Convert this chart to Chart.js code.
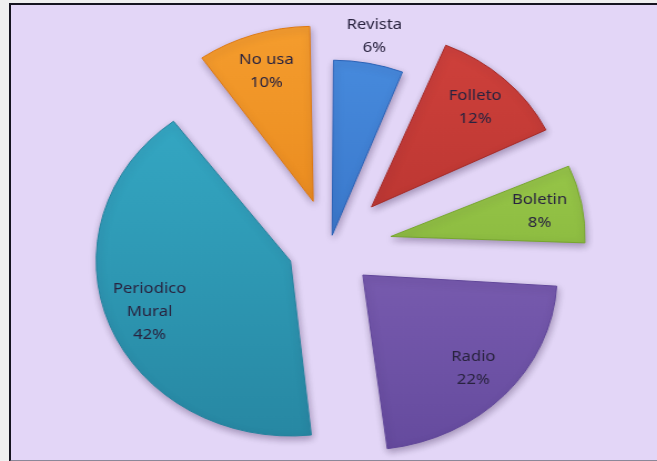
<!DOCTYPE html>
<html>
<head>
<meta charset="utf-8">
<script src="https://cdn.jsdelivr.net/npm/chart.js@4.4.1/dist/chart.umd.min.js"></script>
<style>
  html, body { margin: 0; padding: 0; background: #efefef; overflow: hidden; }
  #frame {
    position: absolute; left: 9px; top: 3px; width: 648px; height: 455px;
    background: #e3d6f7;
    border-left: 2px solid #15131f; border-top: 2px solid #15131f;
    border-bottom: 2px solid #8c8799;
  }
  #wrap {
    position: absolute; left: 0; top: 0; width: 592px; height: 461px;
    transform: scaleX(1.11); transform-origin: 0 0;
  }
</style>
</head>
<body>
<div id="frame"></div>
<div id="wrap"><canvas id="pie" width="592" height="461" style="width:592px;height:461px"></canvas></div>
<script>
// values, clockwise from 12 o'clock
const categories = ['Revista', 'Folleto', 'Boletin', 'Radio', ['Periodico', 'Mural'], 'No usa'];
const percentages = [6, 12, 8, 22, 42, 10];

// styling
const lightColors = ['#4b90e2', '#d6453f', '#a8d657', '#8f70c4', '#38b0cc', '#f8a232'];
const darkColors  = ['#2a62b6', '#a52a27', '#76a62e', '#604699', '#25839e', '#de780f'];
const explode = [12, 55, 56, 41, 38, 48];   // px each slice is pulled out
const RADIUS = 175;

function sliceFill(context) {
  const i = context.dataIndex;
  const chart = context.chart;
  const area = chart.chartArea;
  if (!area) return lightColors[i];
  const cy = (area.top + area.bottom) / 2;
  const g = chart.ctx.createLinearGradient(0, cy - RADIUS - 60, 0, cy + RADIUS + 50);
  g.addColorStop(0, lightColors[i]);
  g.addColorStop(1, darkColors[i]);
  return g;
}

// Chart.js enlarges an offset arc's radius by offset*(1 - sin(circumference));
// take that back so every slice keeps the same radius
const keepRadius = {
  id: 'keepRadius',
  afterDatasetsUpdate(chart) {
    chart.getDatasetMeta(0).data.forEach((arc, i) => {
      const fix = 1 - Math.sin(Math.min(Math.PI, arc.circumference));
      arc.outerRadius = RADIUS - explode[i] * fix;
    });
  }
};

const shadowPlugin = {
  id: 'sliceShadow',
  beforeDatasetsDraw(chart) {
    const ctx = chart.ctx;
    ctx.save();
    ctx.shadowColor = 'rgba(40, 20, 60, 0.35)';
    ctx.shadowBlur = 7;
    ctx.shadowOffsetX = 1;
    ctx.shadowOffsetY = 3;
  },
  afterDatasetsDraw(chart) {
    chart.ctx.restore();
  }
};

// category + percentage written on (or just outside) each slice
const sliceLabels = {
  id: 'sliceLabels',
  afterDatasetsDraw(chart) {
    const ctx = chart.ctx;
    const meta = chart.getDatasetMeta(0);
    ctx.save();
    ctx.font = '15px "Noto Sans", sans-serif';
    ctx.fillStyle = '#29233f';
    ctx.textAlign = 'center';
    ctx.textBaseline = 'middle';
    meta.data.forEach((arc, i) => {
      const p = arc.getProps(['x', 'y', 'startAngle', 'endAngle'], true);
      const mid = (p.startAngle + p.endAngle) / 2;
      const frac = percentages[i] < 7 ? 1.16 : 0.78;
      const dist = explode[i] + RADIUS * frac;
      const x = p.x + Math.cos(mid) * dist;
      const y = p.y + Math.sin(mid) * dist;
      const name = categories[i];
      const lines = (Array.isArray(name) ? name.slice() : [name]);
      lines.push(percentages[i] + '%');
      const lh = 23;
      const y0 = y - (lines.length - 1) * lh / 2;
      lines.forEach((t, k) => ctx.fillText(t, x, y0 + k * lh));
    });
    ctx.restore();
  }
};

new Chart(document.getElementById('pie'), {
  type: 'pie',
  data: {
    labels: categories,
    datasets: [{
      data: percentages,
      backgroundColor: sliceFill,
      borderColor: darkColors,
      borderWidth: 1,
      // arc offset is drawn at a quarter of its value
      offset: explode.map(d => d * 4),
      hoverOffset: 0
    }]
  },
  options: {
    responsive: false,
    animation: false,
    devicePixelRatio: 1,
    radius: RADIUS,
    layout: { padding: { left: 2, right: 0, top: 33, bottom: 0 } },
    plugins: {
      legend: { display: false },
      tooltip: { enabled: false }
    }
  },
  plugins: [keepRadius, shadowPlugin, sliceLabels]
});
</script>
</body>
</html>
